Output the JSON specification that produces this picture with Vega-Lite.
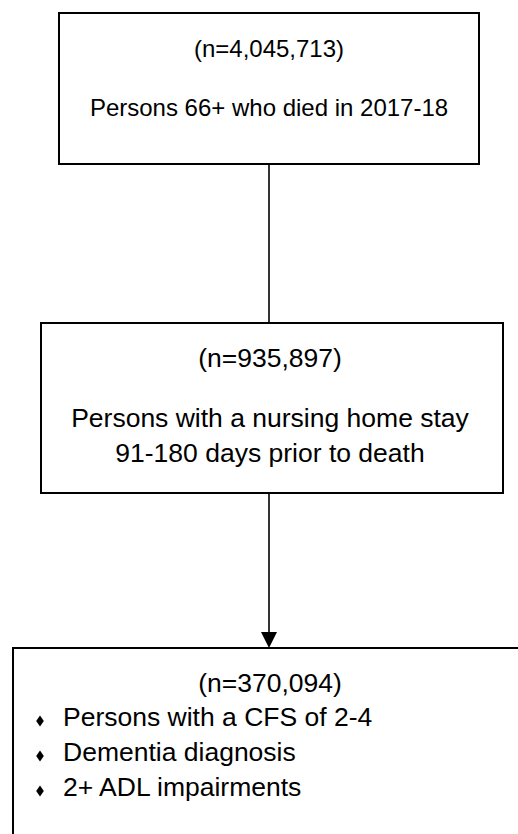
{
  "$schema": "https://vega.github.io/schema/vega-lite/v6.json",
  "width": 518,
  "height": 834,
  "autosize": {"type": "fit", "contains": "padding"},
  "padding": 0,
  "background": "white",
  "config": {"view": {"stroke": null}, "text": {"font": "Liberation Sans", "color": "black"}},
  "datasets": {
    "boxes": [
      {"box": 1, "x": 59, "x2": 479, "y": 13, "y2": 164},
      {"box": 2, "x": 41, "x2": 503, "y": 323, "y2": 493},
      {"box": 3, "x": 13, "x2": 560, "y": 648, "y2": 880}
    ],
    "connectors": [
      {"x": 269, "y": 164, "y2": 323},
      {"x": 269, "y": 493, "y2": 634}
    ],
    "arrowheads": [{"x": 269, "y": 640}],
    "titleLines": [
      {"label": "(n=4,045,713)", "x": 269, "y": 57},
      {"label": "Persons 66+ who died in 2017-18", "x": 269, "y": 116}
    ],
    "centerLines": [
      {"label": "(n=935,897)", "x": 270, "y": 367},
      {"label": "Persons with a nursing home stay", "x": 270, "y": 427},
      {"label": "91-180 days prior to death", "x": 270, "y": 462},
      {"label": "(n=370,094)", "x": 270, "y": 692}
    ],
    "bullets": [
      {"label": "Persons with a CFS of 2-4", "x": 63, "bx": 40, "y": 726, "by": 721},
      {"label": "Dementia diagnosis", "x": 63, "bx": 40, "y": 761, "by": 756},
      {"label": "2+ ADL impairments", "x": 63, "bx": 40, "y": 796, "by": 791}
    ]
  },
  "encoding": {
    "x": {"field": "x", "type": "quantitative", "scale": {"domain": [0, 518], "nice": false, "zero": false}, "axis": null},
    "y": {"field": "y", "type": "quantitative", "scale": {"domain": [0, 834], "nice": false, "zero": false, "reverse": true}, "axis": null}
  },
  "layer": [
    {
      "data": {"name": "boxes"},
      "mark": {"type": "rect", "fill": "white", "stroke": "black", "strokeWidth": 2, "clip": true},
      "encoding": {
        "x2": {"field": "x2"},
        "y2": {"field": "y2"}
      }
    },
    {
      "data": {"name": "connectors"},
      "mark": {"type": "rule", "color": "black", "strokeWidth": 1.6},
      "encoding": {
        "y2": {"field": "y2"}
      }
    },
    {
      "data": {"name": "arrowheads"},
      "mark": {"type": "point", "shape": "M-1,-1L1,-1L0,1Z", "size": 256, "filled": true, "color": "black", "opacity": 1, "strokeWidth": 0}
    },
    {
      "data": {"name": "titleLines"},
      "mark": {"type": "text", "align": "center", "baseline": "alphabetic", "fontSize": 24},
      "encoding": {"text": {"field": "label"}}
    },
    {
      "data": {"name": "centerLines"},
      "mark": {"type": "text", "align": "center", "baseline": "alphabetic", "fontSize": 26.5},
      "encoding": {"text": {"field": "label"}}
    },
    {
      "data": {"name": "bullets"},
      "mark": {"type": "text", "align": "left", "baseline": "alphabetic", "fontSize": 26.5},
      "encoding": {"text": {"field": "label"}}
    },
    {
      "data": {"name": "bullets"},
      "mark": {"type": "point", "shape": "M0,-1.2L0.85,0L0,1.2L-0.85,0Z", "size": 81, "filled": true, "color": "black", "opacity": 1, "strokeWidth": 0},
      "encoding": {
        "x": {"field": "bx", "type": "quantitative"},
        "y": {"field": "by", "type": "quantitative"}
      }
    }
  ]
}
